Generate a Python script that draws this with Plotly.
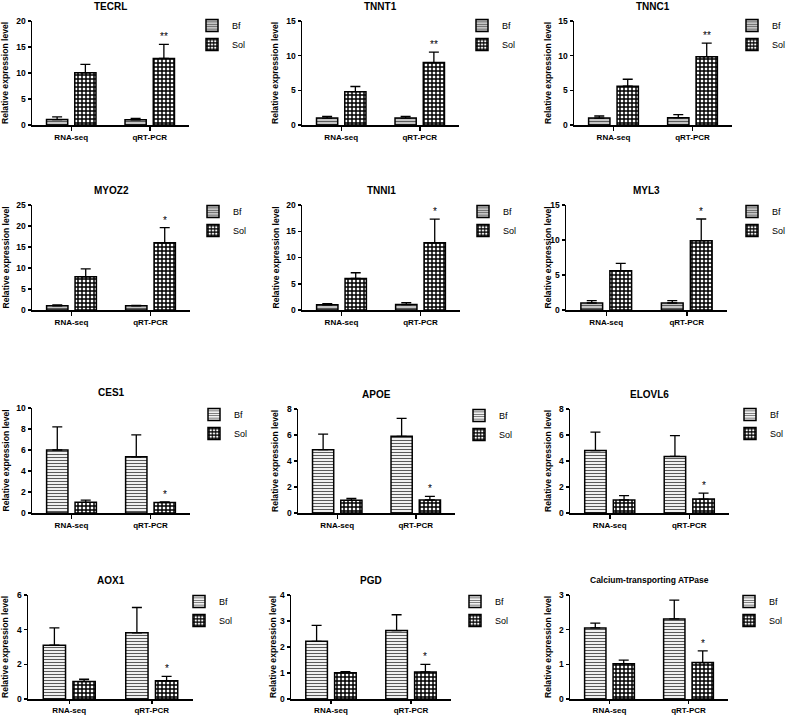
import plotly.graph_objects as go

# ---------------- data ----------------
genes = ["TECRL", "TNNT1", "TNNC1", "MYOZ2", "TNNI1", "MYL3",
         "CES1", "APOE", "ELOVL6", "AOX1", "PGD", "Calcium-transporting ATPase"]
categories = ["RNA-seq", "qRT-PCR"]
series_names = ["Bf", "Sol"]

bf_mean = [[1.05, 1.0], [1.0, 1.0], [1.0, 1.05], [1.0, 1.0], [1.0, 1.05], [1.0, 1.0],
           [6.0, 5.35], [4.87, 5.9], [4.8, 4.35], [3.1, 3.82], [2.22, 2.63], [2.05, 2.31]]
bf_err = [[0.5, 0.25], [0.25, 0.25], [0.3, 0.45], [0.2, 0.1], [0.2, 0.35], [0.33, 0.33],
          [2.2, 2.1], [1.2, 1.38], [1.42, 1.6], [1.0, 1.46], [0.61, 0.61], [0.14, 0.54]]
sol_mean = [[10.05, 12.8], [4.8, 9.0], [5.6, 9.86], [7.9, 16.0], [6.0, 12.8], [5.6, 9.9],
            [1.02, 1.0], [0.98, 1.0], [1.0, 1.07], [1.01, 1.05], [1.01, 1.04], [1.02, 1.05]]
sol_err = [[1.6, 2.7], [0.75, 1.5], [1.0, 1.94], [1.9, 3.6], [1.1, 4.5], [1.07, 3.1],
           [0.2, 0.05], [0.14, 0.28], [0.33, 0.46], [0.13, 0.25], [0.04, 0.29], [0.1, 0.34]]
stars = ["**", "**", "**", "*", "*", "*", "*", "*", "*", "*", "*", "*"]
y_max = [20, 15, 15, 25, 20, 15, 10, 8, 8, 6, 4, 3]
y_dtick = [5, 5, 5, 5, 5, 5, 2, 2, 2, 2, 1, 1]

# ---------------- layout geometry (pixels) ----------------
W, H = 787, 716
frames = [(32, 189, 21, 125), (302, 459, 21, 125), (574, 732, 21, 125),
          (32, 190, 205, 310), (302, 460, 205, 310), (566, 727, 205, 310),
          (32, 190, 408, 513), (298, 455, 409, 513), (570, 729, 409, 513),
          (28, 193, 595, 699), (291, 451, 595, 699), (570, 728, 595, 699)]
xtick_len = [4, 4, 4, 4, 4, 4, 4, 4, 4, 3, 3, 3]
# legend swatch centre (x) and first-entry centre (y)
legend_anchor = [(214, 25), (484, 25), (754, 25),
                 (215, 211), (485, 211), (754, 211),
                 (216, 414), (481, 415), (752, 414),
                 (201, 601), (477, 601), (751, 601)]
ytitle_x = [5, 275, 548, 5, 275, 547, 5, 275, 548, 5, 273, 548]
title_size = [10, 10, 10, 10, 10, 10, 10, 10, 10, 10, 10, 8.5]

FONT = "Arial, Liberation Sans, sans-serif"
BARGAP = 0.28
BARGROUPGAP = 0.25

fig = go.Figure()
layout = dict(
    width=W, height=H, margin=dict(l=0, r=0, t=0, b=0, autoexpand=False),
    paper_bgcolor="white", plot_bgcolor="white",
    barmode="group", bargap=BARGAP, bargroupgap=BARGROUPGAP,
    font=dict(family=FONT, color="black"),
)
annotations = []

for i in range(12):
    n = i + 1
    sfx = "" if n == 1 else str(n)
    xa, ya = "x" + sfx, "y" + sfx
    lg = "legend" + sfx
    x0, x1, yt, yb = frames[i]
    light = i >= 6
    bf_pattern = dict(shape="-", fgcolor="#5a5a5a", bgcolor="#f0f0f0" if light else "#c4c4c4",
                      size=3, solidity=0.35, fillmode="replace")
    sol_pattern = dict(shape="+", fgcolor="black", bgcolor="white", size=4,
                       solidity=0.6, fillmode="replace")
    for name, mean, err, pat in [(series_names[0], bf_mean[i], bf_err[i], bf_pattern),
                                 (series_names[1], sol_mean[i], sol_err[i], sol_pattern)]:
        fig.add_trace(go.Bar(
            x=categories, y=mean, name=name, xaxis=xa, yaxis=ya, legend=lg,
            marker=dict(color="white", line=dict(color="black", width=1.5), pattern=pat),
            error_y=dict(type="data", array=err, arrayminus=[0] * len(err), symmetric=False,
                         color="black", thickness=1.3, width=5),
            hoverinfo="skip",
        ))

    layout["xaxis" + sfx] = dict(
        domain=[x0 / W, x1 / W], anchor=ya, range=[-0.5, 1.5], type="category",
        showline=True, linecolor="black", linewidth=1.5, showgrid=False, zeroline=False,
        ticks="outside", ticklen=xtick_len[i], tickwidth=1.5, tickcolor="black",
        tickfont=dict(family=FONT, size=8, weight="bold", color="black"), fixedrange=True,
    )
    layout["yaxis" + sfx] = dict(
        domain=[1 - yb / H, 1 - yt / H], anchor=xa, range=[0, y_max[i]], dtick=y_dtick[i],
        showline=True, linecolor="black", linewidth=1.5, showgrid=False, zeroline=False,
        ticks="outside", ticklen=3, tickwidth=1.5, tickcolor="black",
        tickfont=dict(family=FONT, size=8.5, weight="bold", color="black"), fixedrange=True,
    )
    cx, cy = legend_anchor[i]
    layout[lg] = dict(
        x=(cx - 22) / W, y=1 - (cy - 14) / H, xanchor="left", yanchor="top",
        bgcolor="rgba(0,0,0,0)", font=dict(family=FONT, size=9, color="black"),
        tracegroupgap=0, itemclick=False, itemdoubleclick=False,
    )
    # panel title
    annotations.append(dict(
        text=genes[i], xref=xa + " domain", yref=ya + " domain", x=0.5, y=1, yshift=15,
        xanchor="center", yanchor="middle", showarrow=False,
        font=dict(family=FONT, size=title_size[i], weight="bold", color="black"),
    ))
    # y-axis title
    annotations.append(dict(
        text="Relative expression level", xref="paper", yref=ya + " domain",
        x=ytitle_x[i] / W, y=0.5, textangle=-90, xanchor="center", yanchor="middle",
        showarrow=False, font=dict(family=FONT, size=8.6, weight="bold", color="black"),
    ))
    # significance stars above the Sol qRT-PCR bar
    cat_px = (x1 - x0) / len(categories)
    sol_shift = (1 - BARGAP) / 4 * cat_px
    annotations.append(dict(
        text=stars[i], xref=xa, yref=ya, x=categories[1],
        y=sol_mean[i][1] + sol_err[i][1], xshift=sol_shift, yshift=0,
        xanchor="center", yanchor="bottom", showarrow=False,
        font=dict(family=FONT, size=10, color="black"),
    ))

layout["annotations"] = annotations
layout["showlegend"] = True
fig.update_layout(**layout)
fig.write_html("out.html", config={"displayModeBar": False, "staticPlot": True},
               post_script="document.body.style.margin='0px';document.body.style.overflow='hidden';")
